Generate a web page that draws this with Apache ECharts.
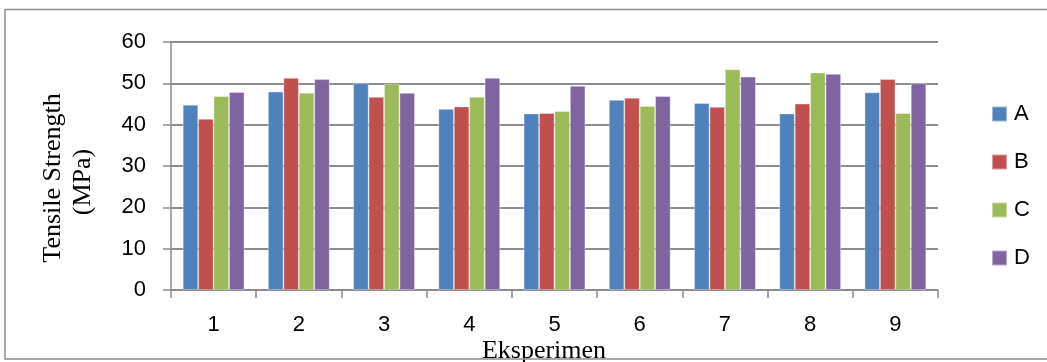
<!DOCTYPE html>
<html>
<head>
<meta charset="utf-8">
<script src="https://cdn.jsdelivr.net/npm/echarts@6/dist/echarts.min.js"></script>
<style>
html,body{margin:0;padding:0;background:#fff;}
#chart{width:1047px;height:362px;}
</style>
</head>
<body>
<div id="chart"></div>
<script>
const categories = ['1','2','3','4','5','6','7','8','9'];
const seriesNames = ['A','B','C','D'];
const valuesA = [44.8, 48.0, 50.0, 43.8, 42.7, 46.0, 45.2, 42.7, 47.8];
const valuesB = [41.4, 51.3, 46.7, 44.4, 42.8, 46.5, 44.3, 45.1, 51.0];
const valuesC = [46.9, 47.7, 49.9, 46.7, 43.3, 44.5, 53.4, 52.6, 42.8];
const valuesD = [47.9, 51.0, 47.7, 51.3, 49.4, 46.9, 51.6, 52.3, 50.0];
const yTicks = [0, 10, 20, 30, 40, 50, 60];

const colors = ['#4F81BD', '#C0504D', '#9BBB59', '#8064A2'];
const allValues = [valuesA, valuesB, valuesC, valuesD];

const chart = echarts.init(document.getElementById('chart'), null, {renderer: 'canvas'});
const gridColor = '#8c8c8c';

const option = {
  animation: false,
  backgroundColor: '#ffffff',
  grid: {left: 171, right: 109, top: 42, bottom: 72, containLabel: false},
  legend: {
    orient: 'vertical',
    left: 991,
    top: 103,
    padding: 0,
    itemWidth: 15,
    itemHeight: 15,
    itemGap: 26,
    icon: 'rect',
    data: seriesNames,
    textStyle: {fontFamily: 'Liberation Sans', fontSize: 22, color: '#000', padding: [0,0,0,2]}
  },
  xAxis: {
    type: 'category',
    data: categories,
    axisLine: {show: true, lineStyle: {color: gridColor, width: 1.5}},
    axisTick: {show: true, length: 8, lineStyle: {color: gridColor, width: 1.5}},
    axisLabel: {fontFamily: 'Liberation Sans', fontSize: 22, color: '#000', margin: 24}
  },
  yAxis: {
    type: 'value',
    min: yTicks[0],
    max: yTicks[yTicks.length - 1],
    interval: 10,
    axisLine: {show: true, lineStyle: {color: gridColor, width: 1.5}},
    axisTick: {show: true, length: 8, lineStyle: {color: gridColor, width: 1.5}},
    axisLabel: {fontFamily: 'Liberation Sans', fontSize: 22, color: '#000', margin: 25},
    splitLine: {show: true, lineStyle: {color: gridColor, width: 2}}
  },
  series: seriesNames.map((name, i) => ({
    name: name,
    type: 'bar',
    data: allValues[i],
    barGap: '0%',
    barCategoryGap: '27.6%',
    itemStyle: {color: colors[i], borderColor: 'rgba(255,255,255,0.45)', borderWidth: 0.8}
  })),
  graphic: [
    {type: 'text', x: 53, y: 178, rotation: Math.PI / 2,
     style: {text: 'Tensile Strength', font: '26px "Liberation Serif"', fill: '#000', align: 'center', verticalAlign: 'middle'}},
    {type: 'text', x: 83, y: 182, rotation: Math.PI / 2,
     style: {text: '(MPa)', font: '26px "Liberation Serif"', fill: '#000', align: 'center', verticalAlign: 'middle'}},
    {type: 'text', x: 544, y: 351,
     style: {text: 'Eksperimen', font: '26px "Liberation Serif"', fill: '#000', align: 'center', verticalAlign: 'middle'}},
    {type: 'rect', shape: {x: 5, y: 9.5, width: 1100, height: 349.5},
     style: {fill: 'none', stroke: gridColor, lineWidth: 1.5}, z: 100}
  ]
};
chart.setOption(option);
</script>
</body>
</html>
